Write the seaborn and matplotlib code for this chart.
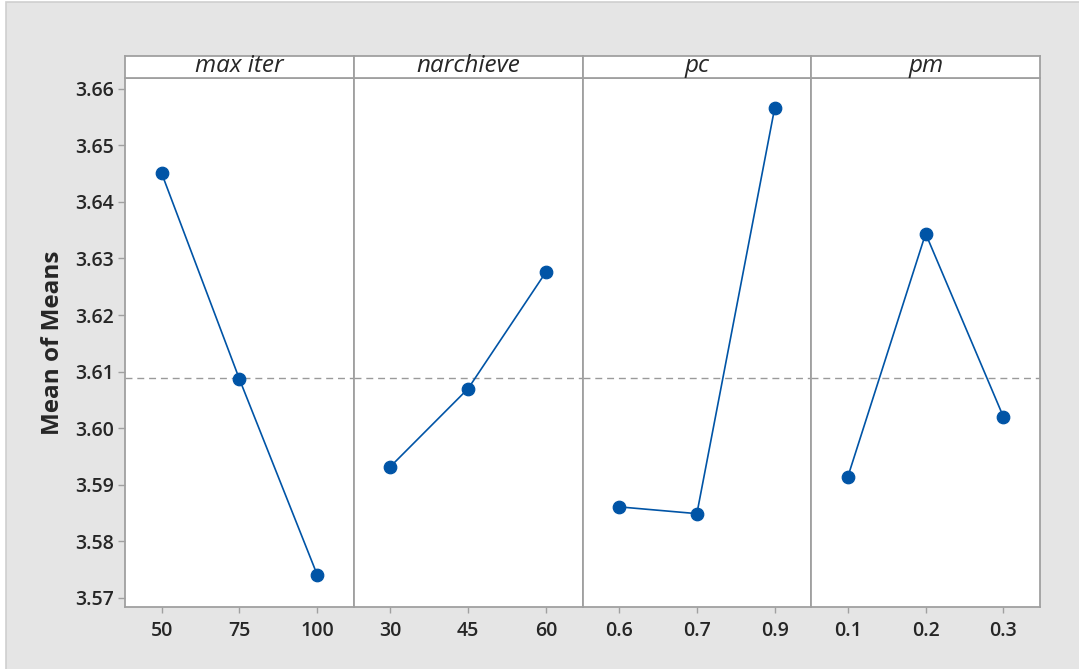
import matplotlib
matplotlib.use("Agg")
import matplotlib.pyplot as plt
from matplotlib.patches import Rectangle
import seaborn as sns
import pandas as pd

# Main-effects data: factor levels and mean of means at each level
factors = ["max iter", "narchieve", "pc", "pm"]
levels_max_iter = ["50", "75", "100"]
levels_narchieve = ["30", "45", "60"]
levels_pc = ["0.6", "0.7", "0.9"]
levels_pm = ["0.1", "0.2", "0.3"]
means_max_iter = [3.6451, 3.6087, 3.5741]
means_narchieve = [3.5932, 3.6070, 3.6276]
means_pc = [3.5861, 3.5849, 3.6566]
means_pm = [3.5914, 3.6344, 3.6020]
grand_mean = 3.6089
y_ticks = [3.57, 3.58, 3.59, 3.60, 3.61, 3.62, 3.63, 3.64, 3.65, 3.66]

levels = [levels_max_iter, levels_narchieve, levels_pc, levels_pm]
means = [means_max_iter, means_narchieve, means_pc, means_pm]

sns.set_style("white")
plt.rcParams["font.family"] = ["Open Sans", "DejaVu Sans"]

W, H = 1079, 669
fig = plt.figure(figsize=(W / 100, H / 100), dpi=100, facecolor="white")

# grey outer frame, kept behind the panels
fig.patches.append(Rectangle((6 / W, -0.01), 1.0, 1 - 1.5 / H + 0.01,
                             transform=fig.transFigure, facecolor="#e5e5e5",
                             edgecolor="#cfcfcf", linewidth=1.2, zorder=-10))

left, right = 125 / W, 1040 / W
bottom, top = 1 - 607 / H, 1 - 78 / H
strip_h = 22 / H
pw = (right - left) / 4

line_col = "#0054a6"
frame_col = "#a0a0a0"
ax0 = None
for i, (name, lv, mv) in enumerate(zip(factors, levels, means)):
    ax = fig.add_axes([left + i * pw, bottom, pw, top - bottom],
                      sharey=ax0)
    if ax0 is None:
        ax0 = ax
    df = pd.DataFrame({"level": lv, "mean": mv})
    sns.pointplot(data=df, x="level", y="mean", order=lv, ax=ax,
                  color=line_col, markers="o", markersize=9,
                  linewidth=1.2, errorbar=None)
    ax.axhline(grand_mean, color="#9a9a9a", linestyle=(0, (5, 3.5)),
               linewidth=1.0, zorder=0)
    ax.set_xlim(-0.47, 2.47)
    ax.set_ylim(3.5684, 3.6619)
    ax.set_xlabel("")
    ax.set_ylabel("")
    ax.set_facecolor("white")
    for s in ax.spines.values():
        s.set_color(frame_col)
        s.set_linewidth(1.3)
    ax.tick_params(axis="x", length=4, width=1, color=frame_col,
                   labelsize=14, pad=6, direction="out", bottom=True)
    for t in ax.get_xticklabels():
        t.set_fontweight("semibold")
    if i == 0:
        ax.set_yticks(y_ticks)
        ax.set_yticklabels([f"{v:.2f}" for v in y_ticks])
        ax.tick_params(axis="y", length=5, width=1, color=frame_col,
                       labelsize=14, pad=3, direction="out", left=True)
        for t in ax.get_yticklabels():
            t.set_fontweight("semibold")
        ax.set_ylabel("Mean of Means", fontsize=17.5, fontweight="bold",
                      labelpad=7)
    else:
        ax.tick_params(axis="y", left=False, labelleft=False)

    # panel header strip
    sax = fig.add_axes([left + i * pw, top, pw, strip_h])
    sax.set_xticks([])
    sax.set_yticks([])
    sax.set_facecolor("white")
    for s in sax.spines.values():
        s.set_color(frame_col)
        s.set_linewidth(1.3)
    sax.text(0.5, 0.0, name, ha="center", va="bottom", fontsize=17.5,
             fontstyle="italic", transform=sax.transAxes)

fig.savefig("out.png", dpi=100, facecolor=fig.get_facecolor())
